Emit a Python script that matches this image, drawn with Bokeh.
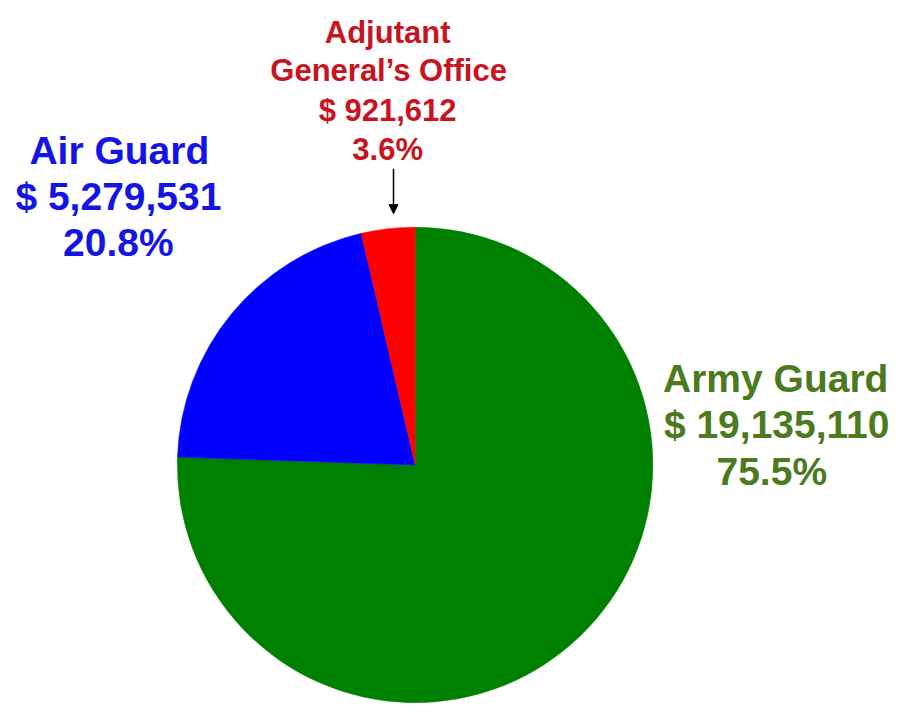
import math
from bokeh.plotting import figure
from bokeh.models import Range1d, ColumnDataSource, Arrow, NormalHead
from bokeh.core.properties import value
from bokeh.embed import file_html
from bokeh.resources import INLINE

# ---- data ----
categories = ["Army Guard", "Air Guard", "Adjutant General\u2019s Office"]
amounts = [19135110, 5279531, 921612]
slice_colors = ["#008000", "#0000FF", "#FF0000"]
label_colors = ["#4B7B1E", "#1414E6", "#C8141E"]

total = sum(amounts)
fractions = [a / total for a in amounts]

W, H = 899, 705
p = figure(width=W, height=H, output_backend="svg", toolbar_location=None,
           x_range=Range1d(0, 915), y_range=Range1d(0, 721),
           min_border=0)
p.axis.visible = False
p.grid.visible = False
p.outline_line_color = None
p.background_fill_color = "white"

# pie: clockwise from top
starts, ends = [], []
cum = 0.0
for f in fractions:
    end = math.pi / 2 - 2 * math.pi * cum
    start = math.pi / 2 - 2 * math.pi * (cum + f)
    starts.append(start)
    ends.append(end)
    cum += f

src = ColumnDataSource(dict(start=starts, end=ends, color=slice_colors,
                            x=[422] * 3, y=[721 - 475] * 3))
p.wedge(x="x", y="y", radius=242, start_angle="start", end_angle="end",
        fill_color="color", line_color="color", line_width=0.5, source=src)

def money(v):
    return "$ {:,}".format(v)

def pct(f):
    return "{:.1f}%".format(f * 100)

font = value("Liberation Sans")

# Army Guard label
army_lines = ["Army Guard", money(amounts[0]), pct(fractions[0])]
p.text(x=[789, 790, 785], y=[721 - 387, 721 - 434, 721 - 482], text=army_lines,
       text_font=font, text_font_style="bold", text_font_size="39px",
       text_color=label_colors[0], text_align="center", text_baseline="alphabetic")

# Air Guard label
air_lines = ["Air Guard", money(amounts[1]), pct(fractions[1])]
p.text(x=[121, 120, 120], y=[721 - 153, 721 - 200, 721 - 247], text=air_lines,
       text_font=font, text_font_style="bold", text_font_size="39px",
       text_color=label_colors[1], text_align="center", text_baseline="alphabetic")

# Adjutant General's Office label
ag_lines = ["Adjutant", "General\u2019s Office", money(amounts[2]), pct(fractions[2])]
p.text(x=[394, 395, 394, 394], y=[721 - 33, 721 - 72, 721 - 112, 721 - 152], text=ag_lines,
       text_font=font, text_font_style="bold", text_font_size="31px",
       text_color=label_colors[2], text_align="center", text_baseline="alphabetic")

p.add_layout(Arrow(end=NormalHead(size=9, fill_color="black", line_color="black"),
                   x_start=400, y_start=721 - 172, x_end=400, y_end=721 - 218,
                   line_color="black", line_width=1.5))

open("out.html", "w").write(file_html(p, INLINE))
